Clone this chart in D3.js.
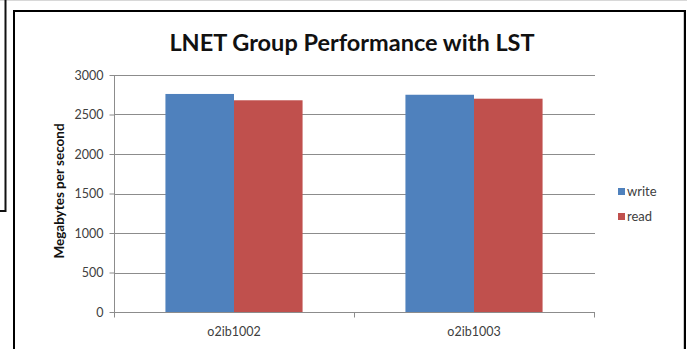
<!DOCTYPE html>
<html>
<head>
<meta charset="utf-8">
<script src="https://cdn.jsdelivr.net/npm/d3@7"></script>
<style>
  body { margin: 0; background: #fff; }
  svg text { font-family: Lato, "Open Sans", sans-serif; }
</style>
</head>
<body>
<svg id="viz" width="687" height="349"></svg>
<script>
const categories = ["o2ib1002", "o2ib1003"]
const seriesNames = ["write", "read"]
const writeValues = [2760, 2750]
const readValues = [2680, 2700]
const yTicks = [0, 500, 1000, 1500, 2000, 2500, 3000]
const colors = {write: "#4F81BD", read: "#C0504D"}

const PLOT = {left: 114, right: 594, top: 75, bottom: 312}
const svg = d3.select("svg#viz")

// frames around the picture
svg.append("line").attr("x1", 0).attr("x2", 687).attr("y1", 0.5).attr("y2", 0.5)
    .attr("stroke", "#d8d8d8").attr("stroke-width", 1)
svg.append("path").attr("d", "M5.5,0 V211 H0")
    .attr("fill", "none").attr("stroke", "#111").attr("stroke-width", 2)
svg.append("rect").attr("x", 14).attr("y", 11).attr("width", 671).attr("height", 400)
    .attr("fill", "#fff").attr("stroke", "#000").attr("stroke-width", 2)
svg.append("line").attr("x1", 683.5).attr("x2", 683.5).attr("y1", 12).attr("y2", 349)
    .attr("stroke", "#ccc")

const table = categories.map((c, i) => ({cat: c, write: writeValues[i], read: readValues[i]}))

const x = d3.scaleBand().domain(categories).range([PLOT.left, PLOT.right])
const xSub = d3.scaleBand().domain(seriesNames).range([0, x.bandwidth()])
    .paddingInner(0).paddingOuter(0.75)
const y = d3.scaleLinear().domain([0, 3000]).range([PLOT.bottom, PLOT.top])

// gridlines
svg.append("g").selectAll("line.grid").data(yTicks)
    .join("line")
    .attr("class", "grid")
    .attr("x1", PLOT.left).attr("x2", PLOT.right + 1)
    .attr("y1", d => Math.round(y(d)) + 0.5).attr("y2", d => Math.round(y(d)) + 0.5)
    .attr("stroke", "#8c8c8c")

// bars
const groups = svg.append("g").selectAll("g.group").data(table)
    .join("g")
    .attr("class", "group")
    .attr("transform", d => `translate(${x(d.cat)},0)`)
groups.selectAll("rect").data(d => seriesNames.map(s => ({key: s, value: d[s]})))
    .join("rect")
    .attr("x", d => xSub(d.key))
    .attr("width", xSub.bandwidth())
    .attr("y", d => y(d.value))
    .attr("height", d => y(0) - y(d.value))
    .attr("fill", d => colors[d.key])

// y axis
const yAxis = d3.axisLeft(y).tickValues(yTicks).tickSize(5).tickPadding(6).tickFormat(d3.format("d"))
const ya = svg.append("g").attr("transform", `translate(${PLOT.left + 0.5},0)`).call(yAxis)
ya.select(".domain").attr("stroke", "#8c8c8c").attr("d", `M0,${PLOT.top}V${PLOT.bottom + 0.5}`)
ya.selectAll(".tick line").attr("stroke", "#8c8c8c")
ya.selectAll(".tick text").attr("font-size", 12.5).attr("fill", "#404040").attr("font-family", "Lato")

// x axis
const xa = svg.append("g").attr("transform", `translate(0,${Math.round(y(0)) + 0.5})`)
xa.selectAll("line.tick").data(categories.map(c => x(c)).concat([x.range()[1]]))
    .join("line")
    .attr("class", "tick")
    .attr("x1", d => Math.round(d) + 0.5).attr("x2", d => Math.round(d) + 0.5)
    .attr("y1", 0).attr("y2", 5)
    .attr("stroke", "#8c8c8c")
xa.selectAll("text").data(categories)
    .join("text")
    .attr("x", d => x(d) + x.bandwidth() / 2)
    .attr("y", 23)
    .attr("text-anchor", "middle")
    .attr("font-size", 12.5)
    .attr("fill", "#404040")
    .text(d => d)

// title
svg.append("text")
    .attr("x", 352).attr("y", 51)
    .attr("text-anchor", "middle")
    .attr("font-size", 23.5).attr("font-weight", "bold")
    .attr("fill", "#111")
    .text("LNET Group Performance with LST")

// y axis title
svg.append("text")
    .attr("transform", "translate(64,191) rotate(-90)")
    .attr("text-anchor", "middle")
    .attr("font-size", 13.5).attr("font-weight", "bold")
    .attr("fill", "#111")
    .text("Megabytes per second")

// legend
const legend = svg.append("g").selectAll("g.legend").data(seriesNames)
    .join("g")
    .attr("class", "legend")
    .attr("transform", (d, i) => `translate(618,${188 + i * 25})`)
legend.append("rect").attr("width", 7).attr("height", 7).attr("fill", d => colors[d])
legend.append("text").attr("x", 9).attr("y", 8).attr("font-size", 13).attr("fill", "#404040").text(d => d)
</script>
</body>
</html>
